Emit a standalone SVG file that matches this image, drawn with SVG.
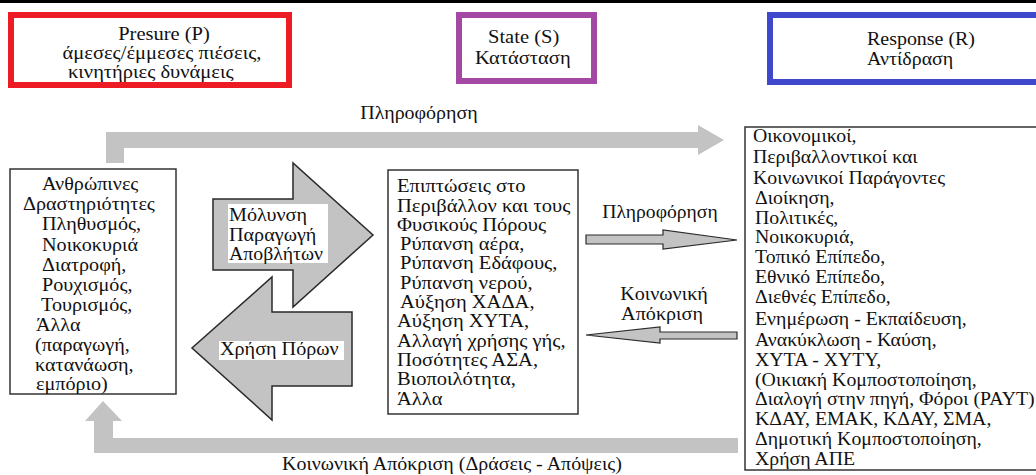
<svg xmlns="http://www.w3.org/2000/svg" width="1036" height="475" viewBox="0 0 1036 475">
<style>
text{font-family:"Liberation Serif","Times New Roman",serif;font-size:18px;fill:#111}
.hdr{font-size:19px}
.mid{text-anchor:middle}
.box{fill:#fff;stroke:#333;stroke-width:1.5}
.big{fill:#c3c3c3;stroke:#2a2a2a;stroke-width:1.5}
.flow{fill:#c3c3c3;stroke:none}
.sm{fill:#c3c3c3;stroke:#2a2a2a;stroke-width:1.2}
.lbl{fill:#fff}
</style>
<rect x="0" y="0" width="1036" height="3" fill="#000"/>
<g id="pressure">
<rect x="11" y="15" width="278" height="70" fill="#fff" stroke="#ed1c24" stroke-width="6"/>
<text class="hdr mid" transform="translate(164,40) scale(1.08,1)">Presure (P)</text>
<text class="hdr mid" transform="translate(162,59) scale(1.08,1)">άμεσες/έμμεσες πιέσεις,</text>
<text class="hdr" transform="translate(68,78) scale(1.08,1)">κινητήριες δυνάμεις</text>
</g>
<g id="state">
<rect x="459" y="15" width="135" height="66" fill="#fff" stroke="#a349a4" stroke-width="6"/>
<text class="hdr" transform="translate(488,43) scale(1.08,1)">State (S)</text>
<text class="hdr" transform="translate(475,64) scale(1.08,1)">Κατάσταση</text>
</g>
<g id="response">
<rect x="770" y="15" width="280" height="67" fill="#fff" stroke="#3f48cc" stroke-width="6"/>
<text class="hdr" transform="translate(867,45) scale(1.05,1)">Response (R)</text>
<text class="hdr" transform="translate(867,65) scale(1.05,1)">Αντίδραση</text>
</g>
<g id="connectors">
<path class="flow" d="M106,163 V132 H698 V125 L724,140 L698,155 V148 H124 V163 Z"/>
<text class="mid" transform="translate(419,119) scale(1.11,1)">Πληροφόρηση</text>
<path class="flow" d="M738,438 V453 H94 V421 H85 L103,401 L122,421 H113 V438 Z"/>
<text transform="translate(282,470) scale(1.11,1)">Κοινωνική Απόκριση (Δράσεις - Απόψεις)</text>
<path class="big" d="M213,199 H293 V163 L373,235 L293,307 V270 H213 Z"/>
<rect class="lbl" x="228" y="204" width="100" height="59"/>
<text transform="translate(229,221) scale(1.12,1)">Μόλυνση</text>
<text transform="translate(229,241) scale(1.12,1)">Παραγωγή</text>
<text transform="translate(229,260) scale(1.1,1)">Αποβλήτων</text>
<path class="big" d="M352,312 H272 V277 L192,348 L272,420 V386 H352 Z"/>
<rect class="lbl" x="219" y="341" width="125" height="19"/>
<text transform="translate(220,355) scale(1.12,1)">Χρήση Πόρων</text>
<path class="sm" d="M586,235 H663 V230 L737,240 L663,249 V244 H586 Z"/>
<text class="mid" transform="translate(660,218) scale(1.09,1)">Πληροφόρηση</text>
<path class="sm" d="M737,332 H660 V327 L586,335 L660,343 V339 H737 Z"/>
<text class="mid" transform="translate(664,300) scale(1.12,1)">Κοινωνική</text>
<text class="mid" transform="translate(662,320) scale(1.12,1)">Απόκριση</text>
</g>
<g id="drivers">
<rect class="box" x="10" y="169" width="166" height="225"/>
<text transform="translate(42,190) scale(1.12,1)">Ανθρώπινες</text>
<text transform="translate(23,210) scale(1.12,1)">Δραστηριότητες</text>
<text transform="translate(42,230) scale(1.12,1)">Πληθυσμός,</text>
<text transform="translate(42,251) scale(1.12,1)">Νοικοκυριά</text>
<text transform="translate(42,271) scale(1.12,1)">Διατροφή,</text>
<text transform="translate(42,291) scale(1.12,1)">Ρουχισμός,</text>
<text transform="translate(41,311) scale(1.12,1)">Τουρισμός,</text>
<text transform="translate(36,331) scale(1.12,1)">Άλλα</text>
<text transform="translate(35,351) scale(1.12,1)">(παραγωγή,</text>
<text transform="translate(35,371) scale(1.12,1)">κατανάωση,</text>
<text transform="translate(36,390) scale(1.12,1)">εμπόριο)</text>
</g>
<g id="impacts">
<rect class="box" x="388" y="170" width="190" height="244"/>
<text transform="translate(397,192) scale(1.14,1)">Επιπτώσεις στο</text>
<text transform="translate(397,212) scale(1.14,1)">Περιβάλλον και τους</text>
<text transform="translate(397,231) scale(1.14,1)">Φυσικούς Πόρους</text>
<text transform="translate(400,250) scale(1.14,1)">Ρύπανση αέρα,</text>
<text transform="translate(400,269) scale(1.14,1)">Ρύπανση Εδάφους,</text>
<text transform="translate(400,289) scale(1.14,1)">Ρύπανση νερού,</text>
<text transform="translate(400,308) scale(1.14,1)">Αύξηση ΧΑΔΑ,</text>
<text transform="translate(397,327) scale(1.14,1)">Αύξηση ΧΥΤΑ,</text>
<text transform="translate(397,347) scale(1.14,1)">Αλλαγή χρήσης γής,</text>
<text transform="translate(397,366) scale(1.14,1)">Ποσότητες ΑΣΑ,</text>
<text transform="translate(397,385) scale(1.14,1)">Βιοποιλότητα,</text>
<text transform="translate(397,405) scale(1.14,1)">Άλλα</text>
</g>
<g id="responses">
<rect class="box" x="745" y="127" width="300" height="343"/>
<text transform="translate(753,142) scale(1.1,1)">Οικονομικοί,</text>
<text transform="translate(753,163) scale(1.1,1)">Περιβαλλοντικοί και</text>
<text transform="translate(753,184) scale(1.1,1)">Κοινωνικοί Παράγοντες</text>
<text transform="translate(755,204) scale(1.1,1)">Διοίκηση,</text>
<text transform="translate(755,224) scale(1.1,1)">Πολιτικές,</text>
<text transform="translate(755,243) scale(1.1,1)">Νοικοκυριά,</text>
<text transform="translate(755,263) scale(1.1,1)">Τοπικό Επίπεδο,</text>
<text transform="translate(755,283) scale(1.1,1)">Εθνικό Επίπεδο,</text>
<text transform="translate(755,303) scale(1.1,1)">Διεθνές Επίπεδο,</text>
<text transform="translate(755,325) scale(1.1,1)">Ενημέρωση - Εκπαίδευση,</text>
<text transform="translate(755,346) scale(1.1,1)">Ανακύκλωση - Καύση,</text>
<text transform="translate(755,366) scale(1.1,1)">ΧΥΤΑ - ΧΥΤΥ,</text>
<text transform="translate(755,386) scale(1.1,1)">(Οικιακή Κομποστοποίηση,</text>
<text transform="translate(755,405) scale(1.1,1)">Διαλογή στην πηγή, Φόροι (PAYT)</text>
<text transform="translate(755,425) scale(1.1,1)">ΚΔΑΥ, ΕΜΑΚ, ΚΔΑΥ, ΣΜΑ,</text>
<text transform="translate(755,445) scale(1.1,1)">Δημοτική Κομποστοποίηση,</text>
<text transform="translate(755,465) scale(1.1,1)">Χρήση ΑΠΕ</text>
</g>
</svg>
